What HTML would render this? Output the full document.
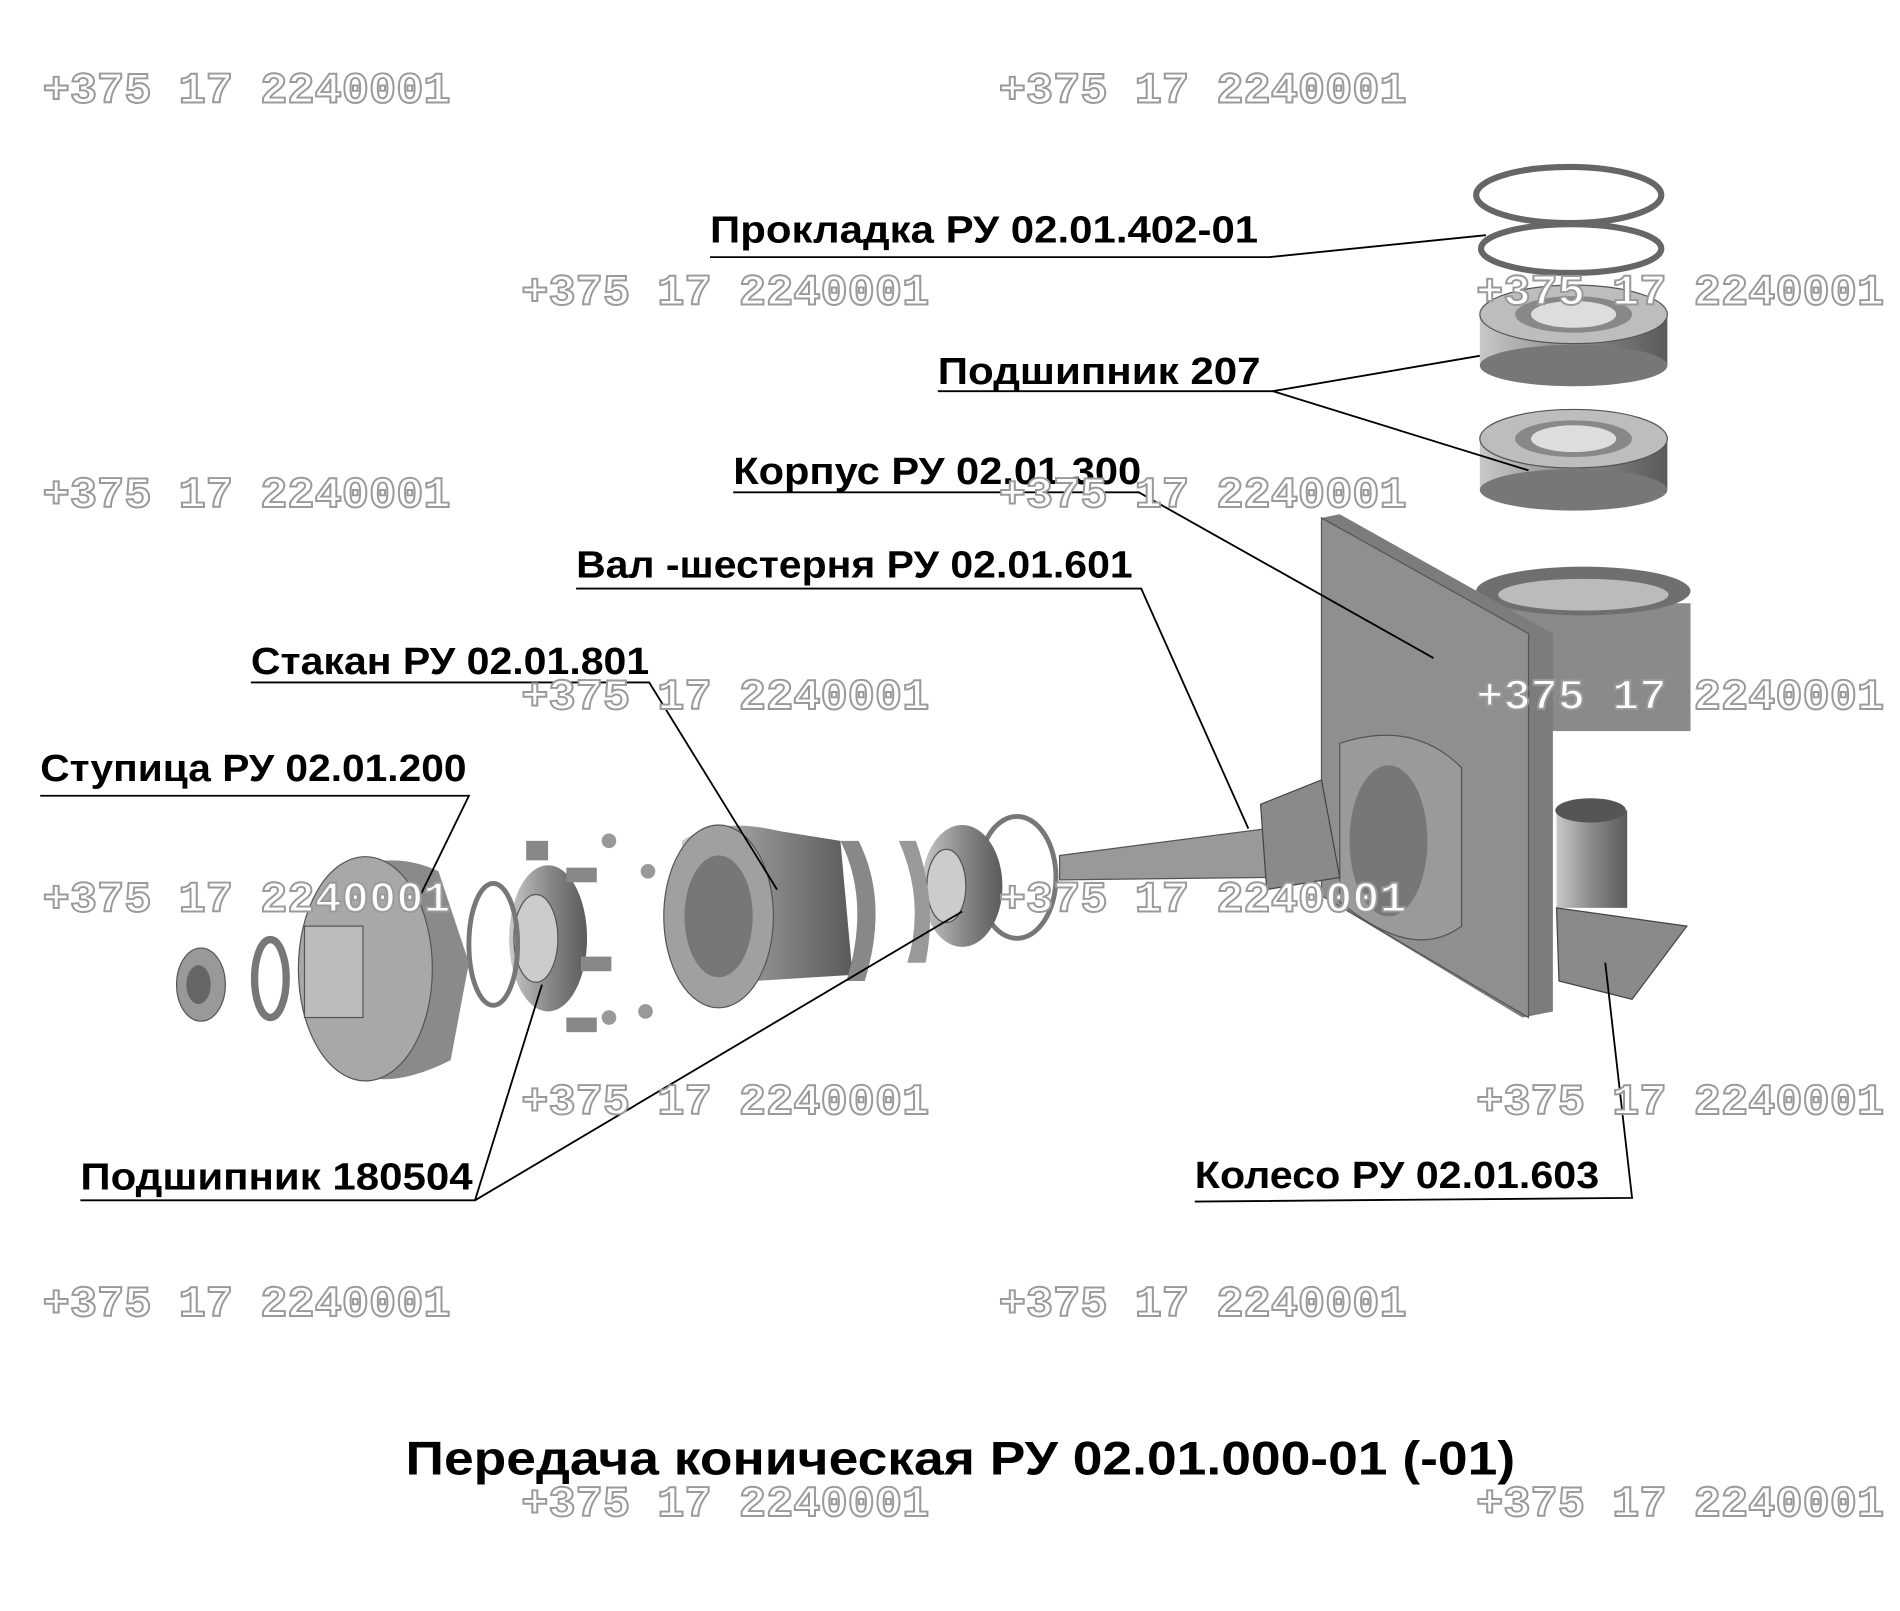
<!DOCTYPE html>
<html><head><meta charset="utf-8"><style>
html,body{margin:0;padding:0;background:#fff;}
svg{display:block;}
.lbl{font-family:"Liberation Sans",sans-serif;font-weight:bold;font-size:31px;fill:#000;}
.wm{font-family:"Liberation Mono",monospace;font-size:36px;fill:#fff;stroke:#9a9a9a;stroke-width:1.6;font-weight:bold;}
.ln{stroke:#000;stroke-width:1.5;fill:none;}
</style></head><body>
<svg width="1900" height="1611" viewBox="0 0 1560 1322" preserveAspectRatio="none" xmlns="http://www.w3.org/2000/svg">
<defs>
<linearGradient id="g1" x1="0" x2="1" y1="0" y2="0"><stop offset="0" stop-color="#c8c8c8"/><stop offset="0.5" stop-color="#8a8a8a"/><stop offset="1" stop-color="#5a5a5a"/></linearGradient>
</defs>
<rect width="1560" height="1322" fill="#fff"/>

<ellipse cx="1288" cy="160" rx="76" ry="23" fill="none" stroke="#666" stroke-width="5"/>
<ellipse cx="1290" cy="204" rx="74" ry="20" fill="none" stroke="#666" stroke-width="5"/>
<g>
<rect x="1215" y="258" width="154" height="42" fill="url(#g1)"/>
<ellipse cx="1292" cy="300" rx="77" ry="17" fill="#777"/>
<ellipse cx="1292" cy="258" rx="77" ry="24" fill="#bdbdbd" stroke="#555"/>
<ellipse cx="1292" cy="258" rx="48" ry="15" fill="#888"/>
<ellipse cx="1292" cy="258" rx="35" ry="11" fill="#ddd"/>
</g>
<g>
<rect x="1215" y="360" width="154" height="42" fill="url(#g1)"/>
<ellipse cx="1292" cy="402" rx="77" ry="17" fill="#777"/>
<ellipse cx="1292" cy="360" rx="77" ry="24" fill="#bdbdbd" stroke="#555"/>
<ellipse cx="1292" cy="360" rx="48" ry="15" fill="#888"/>
<ellipse cx="1292" cy="360" rx="35" ry="11" fill="#ddd"/>
</g>
<path d="M1215 495 L1388 495 L1388 600 L1270 600 Z" fill="#8a8a8a"/>
<ellipse cx="1300" cy="485" rx="88" ry="20" fill="#6f6f6f"/>
<ellipse cx="1300" cy="488" rx="70" ry="13" fill="#bbb"/>
<path d="M1085 425 L1100 422 L1275 520 L1275 830 L1250 835 L1085 735 Z" fill="#7c7c7c"/>
<path d="M1085 425 L1255 520 L1255 835 L1085 735 Z" fill="#8f8f8f" stroke="#555"/>
<path d="M1100 610 Q1160 590 1200 630 L1200 760 Q1160 790 1100 740 Z" fill="#9a9a9a" stroke="#555"/>
<ellipse cx="1140" cy="690" rx="32" ry="62" fill="#777"/>
<rect x="1278" y="665" width="58" height="80" fill="url(#g1)"/>
<ellipse cx="1306" cy="665" rx="29" ry="10" fill="#555"/>
<path d="M1278 745 L1385 760 L1340 820 L1280 805 Z" fill="#8a8a8a" stroke="#444"/>
<path d="M870 702 L1040 680 L1045 720 L870 722 Z" fill="#999" stroke="#555"/>
<path d="M1035 660 L1085 640 L1100 720 L1040 730 Z" fill="#8a8a8a" stroke="#444"/>
<ellipse cx="835" cy="720" rx="32" ry="50" fill="none" stroke="#777" stroke-width="4"/>
<ellipse cx="790" cy="727" rx="33" ry="50" fill="url(#g1)"/>
<ellipse cx="777" cy="727" rx="16" ry="30" fill="#ccc" stroke="#555"/>
<path d="M738 690 Q760 740 745 790 L760 790 Q770 740 752 690 Z" fill="#999"/>
<path d="M560 690 Q590 670 640 682 L690 690 L700 800 L620 805 Q570 800 560 760 Z" fill="url(#g1)"/>
<ellipse cx="590" cy="752" rx="45" ry="75" fill="#a0a0a0" stroke="#555"/>
<ellipse cx="590" cy="752" rx="28" ry="50" fill="#777"/>
<path d="M690 690 Q715 740 695 805 L710 805 Q730 740 705 690 Z" fill="#888"/>
<ellipse cx="450" cy="770" rx="32" ry="60" fill="url(#g1)"/>
<ellipse cx="440" cy="770" rx="18" ry="36" fill="#ccc" stroke="#555"/>
<ellipse cx="405" cy="775" rx="20" ry="50" fill="none" stroke="#777" stroke-width="4"/>
<g fill="#888"><rect x="432" y="690" width="18" height="16"/><rect x="465" y="712" width="25" height="12"/><rect x="477" y="785" width="25" height="12"/><rect x="465" y="835" width="25" height="12"/></g>
<g fill="#999"><circle cx="500" cy="690" r="6"/><circle cx="532" cy="715" r="6"/><circle cx="530" cy="830" r="6"/><circle cx="500" cy="835" r="6"/></g>
<path d="M290 710 Q330 700 360 715 L385 790 L370 870 Q320 895 290 880 Z" fill="#8a8a8a"/>
<ellipse cx="300" cy="795" rx="55" ry="92" fill="#a8a8a8" stroke="#555"/>
<rect x="250" y="760" width="48" height="75" fill="#bbb" stroke="#555"/>
<ellipse cx="222" cy="803" rx="13" ry="32" fill="none" stroke="#777" stroke-width="6"/>
<ellipse cx="165" cy="808" rx="20" ry="30" fill="#999" stroke="#555"/>
<ellipse cx="163" cy="808" rx="10" ry="16" fill="#666"/>

<polyline class="ln" points="583,211 1042,211 1220,193"/>
<polyline class="ln" points="770,321 1045,321 1215,292"/>
<line class="ln" x1="1045" y1="321" x2="1255" y2="386"/>
<polyline class="ln" points="602,404 935,404 1177,540"/>
<polyline class="ln" points="473,483 937,483 1025,680"/>
<polyline class="ln" points="206,560 533,560 638,730"/>
<polyline class="ln" points="33,653 385,653 345,735"/>
<polyline class="ln" points="66,985 390,985 445,808"/>
<line class="ln" x1="390" y1="985" x2="790" y2="748"/>
<polyline class="ln" points="981,986 1340,983 1318,790"/>

<text class="lbl" x="583" y="199" textLength="450" lengthAdjust="spacingAndGlyphs">Прокладка РУ 02.01.402-01</text>
<text class="lbl" x="770" y="315" textLength="265" lengthAdjust="spacingAndGlyphs">Подшипник 207</text>
<text class="lbl" x="602" y="397" textLength="335" lengthAdjust="spacingAndGlyphs">Корпус РУ 02.01.300</text>
<text class="lbl" x="473" y="474" textLength="457" lengthAdjust="spacingAndGlyphs">Вал -шестерня РУ 02.01.601</text>
<text class="lbl" x="206" y="553" textLength="327" lengthAdjust="spacingAndGlyphs">Стакан РУ 02.01.801</text>
<text class="lbl" x="33" y="641" textLength="350" lengthAdjust="spacingAndGlyphs">Ступица РУ 02.01.200</text>
<text class="lbl" x="66" y="976" textLength="322" lengthAdjust="spacingAndGlyphs">Подшипник 180504</text>
<text class="lbl" x="981" y="975" textLength="332" lengthAdjust="spacingAndGlyphs">Колесо РУ 02.01.603</text>
<text class="lbl" x="333" y="1210" style="font-size:39px" textLength="911" lengthAdjust="spacingAndGlyphs">Передача коническая РУ 02.01.000-01 (-01)</text>

<g class="wm">
<text x="35" y="84" textLength="335" lengthAdjust="spacingAndGlyphs">+375 17 2240001</text>
<text x="820" y="84" textLength="335" lengthAdjust="spacingAndGlyphs">+375 17 2240001</text>
<text x="428" y="250" textLength="335" lengthAdjust="spacingAndGlyphs">+375 17 2240001</text>
<text x="1212" y="250" textLength="335" lengthAdjust="spacingAndGlyphs">+375 17 2240001</text>
<text x="35" y="416" textLength="335" lengthAdjust="spacingAndGlyphs">+375 17 2240001</text>
<text x="820" y="416" textLength="335" lengthAdjust="spacingAndGlyphs">+375 17 2240001</text>
<text x="428" y="582" textLength="335" lengthAdjust="spacingAndGlyphs">+375 17 2240001</text>
<text x="1212" y="582" textLength="335" lengthAdjust="spacingAndGlyphs">+375 17 2240001</text>
<text x="35" y="748" textLength="335" lengthAdjust="spacingAndGlyphs">+375 17 2240001</text>
<text x="820" y="748" textLength="335" lengthAdjust="spacingAndGlyphs">+375 17 2240001</text>
<text x="428" y="914" textLength="335" lengthAdjust="spacingAndGlyphs">+375 17 2240001</text>
<text x="1212" y="914" textLength="335" lengthAdjust="spacingAndGlyphs">+375 17 2240001</text>
<text x="35" y="1080" textLength="335" lengthAdjust="spacingAndGlyphs">+375 17 2240001</text>
<text x="820" y="1080" textLength="335" lengthAdjust="spacingAndGlyphs">+375 17 2240001</text>
<text x="428" y="1244" textLength="335" lengthAdjust="spacingAndGlyphs">+375 17 2240001</text>
<text x="1212" y="1244" textLength="335" lengthAdjust="spacingAndGlyphs">+375 17 2240001</text>
</g>
</svg>
</body></html>
